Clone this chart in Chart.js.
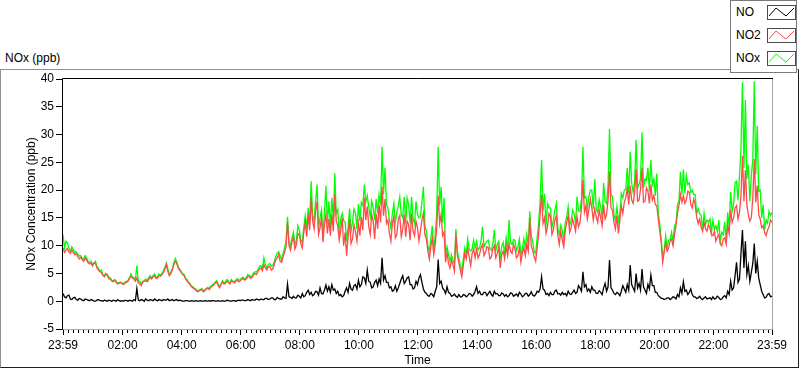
<!DOCTYPE html>
<html>
<head>
<meta charset="utf-8">
<script src="https://cdn.jsdelivr.net/npm/chart.js@4.4.0/dist/chart.umd.min.js"></script>
<style>
  body { margin: 0; width: 800px; height: 369px; background: #fff; overflow: hidden; position: relative; font-family: "Liberation Sans", Arial, sans-serif; }
  #frame { position: absolute; left: 0; top: 69px; width: 799px; height: 299px; box-sizing: border-box;
           border-top: 1px solid #8f8f8f; border-left: 1px solid #8f8f8f; border-right: 1px solid #1e1e1e; border-bottom: 1px solid #1e1e1e; }
  #title { position: absolute; left: 5px; top: 51px; font-size: 12px; color: #000; }
  #chartBox { position: absolute; left: 0; top: 0; width: 800px; height: 369px; }
  #legend { position: absolute; left: 730px; top: 0; width: 67px; height: 73px; box-sizing: border-box; border: 1px solid #7a7a7a; background: #fff; }
  .item { position: absolute; left: 5px; height: 15px; line-height: 15px; font-size: 12px; color: #000; }
  .item canvas { position: absolute; left: 31px; top: 0; }
</style>
</head>
<body>
<div id="frame"></div>
<div id="title">NOx (ppb)</div>
<div id="chartBox"><canvas id="noxChart" width="800" height="369"></canvas></div>
<div id="legend"></div>
<script>
// x axis: minutes since 23:59, one sample every 3 minutes (20 per row = 1 hour)
const tickMinutes = [0, 121, 241, 361, 481, 601, 721, 841, 961, 1081, 1201, 1321, 1440];
const tickLabels = ['23:59', '02:00', '04:00', '06:00', '08:00', '10:00', '12:00', '14:00', '16:00', '18:00', '20:00', '22:00', '23:59'];

const no = [
  1.4, 0.8, 0.6, 1.0, 1.1, 0.4, 0.3, 0.6, 0.7, 0.3, 0.2, 0.5, 0.4, 0.2, 0.1, 0.4, 0.3, 0.2, 0.1, 0.3,
  0.2, 0.0, 0.0, 0.2, 0.3, 0.1, 0.1, 0.0, 0.2, 0.1, 0.0, 0.2, 0.1, 0.0, 0.2, 0.1, 0.0, 0.3, 0.1, 0.0,
  0.1, 0.0, 0.2, 0.1, 0.0, 0.2, 0.1, 0.0, 0.3, 0.1, 2.3, 0.2, 0.1, 0.3, 0.2, 0.0, 0.4, 0.2, 0.1, 0.3,
  0.2, 0.1, 0.4, 0.2, 0.1, 0.3, 0.2, 0.1, 0.3, 0.2, 0.2, 0.4, 0.1, 0.2, 0.3, 0.1, 0.2, 0.3, 0.1, 0.2,
  0.1, 0.0, 0.0, 0.1, 0.1, 0.0, 0.0, 0.1, 0.0, 0.0, 0.1, 0.0, 0.0, 0.1, 0.0, 0.0, 0.1, 0.0, 0.0, 0.1,
  0.0, 0.1, 0.1, 0.0, 0.0, 0.1, 0.0, 0.0, 0.1, 0.0, 0.0, 0.2, 0.1, 0.0, 0.0, 0.1, 0.1, 0.0, 0.1, 0.2,
  0.1, 0.2, 0.2, 0.1, 0.1, 0.3, 0.2, 0.1, 0.3, 0.2, 0.2, 0.4, 0.3, 0.2, 0.4, 0.3, 0.3, 0.5, 0.5, 0.3,
  0.4, 0.6, 0.6, 0.3, 0.3, 0.7, 0.5, 0.4, 0.4, 0.8, 0.6, 0.5, 3.1, 0.8, 0.7, 0.5, 0.9, 0.6, 0.6, 1.1,
  0.9, 0.6, 1.4, 0.8, 1.0, 1.6, 2.0, 1.2, 1.6, 1.0, 1.2, 1.8, 1.7, 1.1, 2.4, 1.4, 1.3, 2.0, 2.9, 1.8,
  2.6, 1.6, 3.0, 2.0, 2.2, 1.4, 1.8, 1.0, 1.2, 0.8, 1.0, 1.8, 2.4, 1.6, 3.2, 2.2, 2.0, 2.8, 3.0, 2.2,
  3.8, 2.6, 3.0, 4.4, 4.2, 3.2, 5.6, 3.6, 3.4, 2.4, 2.6, 3.4, 3.8, 2.8, 4.0, 3.2, 7.8, 3.8, 4.6, 3.4,
  3.4, 2.4, 2.6, 1.8, 2.0, 2.8, 1.8, 2.4, 3.2, 4.0, 4.6, 3.2, 3.6, 4.2, 4.4, 3.0, 3.0, 2.2, 2.4, 3.6,
  3.0, 4.2, 4.8, 3.4, 2.2, 1.6, 1.4, 1.0, 0.9, 1.4, 1.2, 0.8, 1.8, 2.6, 7.5, 3.2, 3.6, 2.4, 2.0, 1.4,
  2.6, 1.6, 1.4, 0.9, 1.0, 1.3, 0.9, 0.7, 1.2, 0.8, 0.8, 1.2, 1.1, 0.8, 1.0, 1.4, 1.3, 0.9, 1.2, 1.8,
  2.6, 1.4, 1.8, 1.2, 1.2, 1.6, 1.6, 1.0, 1.4, 1.8, 1.2, 0.9, 1.8, 1.3, 1.4, 1.0, 1.0, 1.5, 1.3, 0.9,
  1.2, 0.8, 1.0, 1.5, 1.4, 0.9, 1.1, 1.3, 0.9, 1.6, 1.3, 0.8, 1.0, 1.4, 1.4, 0.9, 1.2, 1.7, 1.1, 0.9,
  1.2, 1.8, 1.6, 2.2, 4.4, 2.2, 2.0, 1.2, 1.4, 1.0, 1.6, 1.2, 1.2, 1.8, 2.0, 1.3, 1.4, 1.1, 1.6, 1.2,
  1.4, 1.0, 1.8, 1.3, 1.2, 1.6, 2.0, 1.4, 1.6, 2.8, 2.4, 1.8, 5.3, 2.6, 3.0, 1.8, 2.2, 1.6, 2.6, 2.0,
  2.0, 1.4, 1.4, 1.9, 1.6, 1.2, 2.4, 3.2, 1.8, 2.6, 7.4, 2.4, 2.0, 1.4, 1.2, 1.6, 1.4, 1.0, 1.8, 2.8,
  2.2, 1.6, 3.0, 2.0, 6.5, 3.0, 2.4, 1.8, 5.0, 2.4, 3.2, 2.0, 5.8, 2.6, 2.0, 1.4, 3.0, 2.2, 4.7, 2.8,
  2.8, 1.6, 1.6, 1.0, 0.8, 0.5, 0.5, 0.3, 0.4, 0.6, 0.6, 0.3, 0.5, 0.8, 0.7, 0.4, 1.2, 0.8, 2.4, 1.4,
  3.5, 1.8, 2.0, 1.2, 1.6, 2.2, 1.2, 0.8, 0.8, 0.5, 0.6, 0.9, 0.5, 0.3, 0.6, 0.8, 0.4, 0.5, 0.6, 0.3,
  0.8, 0.4, 0.5, 0.9, 0.7, 0.3, 0.4, 0.8, 1.0, 0.6, 1.8, 1.2, 3.6, 2.0, 2.4, 4.6, 7.0, 3.4, 4.0, 8.6,
  12.8, 6.0, 10.8, 4.8, 6.4, 3.6, 5.2, 6.8, 10.4, 5.0, 7.2, 4.2, 3.0, 1.8, 1.2, 0.6, 0.7, 1.2, 1.4, 0.8,
  0.9
];

const no2 = [
  9.6, 8.8, 9.2, 9.5, 8.9, 8.6, 9.3, 8.7, 8.4, 8.6, 8.0, 7.6, 7.9, 7.5, 7.2, 7.8, 7.4, 6.9, 6.7, 6.9,
  6.3, 6.9, 6.8, 6.0, 5.6, 5.3, 5.2, 4.7, 4.4, 4.9, 4.6, 4.1, 3.9, 3.7, 3.5, 3.8, 3.4, 3.1, 3.2, 3.4,
  3.1, 3.0, 3.3, 3.4, 3.6, 4.1, 4.5, 4.2, 4.0, 3.6, 4.2, 3.3, 3.1, 2.8, 3.4, 3.6, 3.7, 3.5, 3.9, 4.3,
  4.0, 4.4, 4.6, 4.1, 4.2, 4.6, 4.5, 4.8, 5.2, 5.8, 6.6, 5.4, 4.6, 5.0, 5.6, 6.6, 7.2, 6.8, 6.0, 5.6,
  5.2, 4.8, 4.6, 4.0, 3.6, 3.3, 3.0, 2.6, 2.4, 2.2, 2.0, 1.7, 1.8, 2.0, 2.1, 1.7, 1.9, 2.2, 2.3, 2.1,
  2.5, 2.7, 2.9, 3.3, 3.5, 2.9, 2.4, 3.0, 3.5, 3.1, 3.2, 3.6, 3.4, 3.1, 3.7, 3.5, 3.3, 3.6, 3.8, 3.5,
  3.7, 3.9, 4.1, 3.8, 4.0, 4.4, 4.5, 4.1, 4.3, 4.7, 5.0, 4.8, 5.4, 5.8, 6.0, 5.5, 6.6, 6.0, 5.6, 6.2,
  6.3, 5.6, 5.8, 6.6, 7.4, 7.8, 8.4, 7.2, 7.0, 8.0, 8.8, 9.8, 14.3, 10.0, 9.2, 10.6, 11.6, 9.4, 10.2, 12.2,
  12.0, 10.4, 9.6, 12.4, 14.2, 11.6, 15.6, 12.8, 18.6, 14.4, 13.0, 16.2, 18.0, 12.0, 13.2, 15.0, 10.6, 13.8, 15.6, 12.2,
  14.8, 11.8, 15.6, 12.6, 19.2, 14.4, 13.6, 11.0, 12.6, 15.0, 10.0, 12.4, 8.2, 11.6, 14.8, 10.4, 11.2, 13.8, 12.6, 10.8,
  14.0, 11.8, 15.2, 12.8, 18.6, 14.6, 17.1, 13.4, 12.0, 15.6, 14.4, 11.2, 15.8, 13.0, 17.4, 14.2, 20.6, 15.4, 18.4, 14.0,
  14.6, 12.2, 10.8, 14.0, 15.2, 11.4, 12.0, 14.8, 15.4, 11.6, 13.0, 15.6, 11.6, 14.4, 13.8, 11.0, 15.8, 12.6, 11.8, 14.4,
  13.2, 10.8, 12.6, 14.6, 15.8, 12.0, 11.2, 9.0, 7.6, 9.8, 11.4, 8.4, 10.2, 13.2, 19.0, 14.0, 15.6, 11.8, 12.4, 7.0,
  8.8, 6.8, 6.0, 7.4, 6.6, 5.4, 12.2, 8.2, 7.0, 5.6, 4.4, 6.4, 8.6, 7.6, 9.6, 8.0, 6.4, 8.6, 9.4, 7.8,
  9.4, 7.8, 8.4, 9.6, 10.2, 8.2, 8.8, 9.8, 9.6, 7.6, 8.0, 9.4, 10.0, 7.8, 8.6, 9.8, 6.0, 8.4, 9.0, 7.6,
  9.8, 8.2, 10.4, 9.0, 8.6, 10.2, 9.4, 7.8, 8.2, 9.6, 7.0, 8.6, 9.6, 8.2, 10.2, 9.0, 15.0, 10.0, 9.2, 8.0,
  7.2, 9.6, 12.0, 15.6, 19.2, 14.0, 15.0, 12.2, 13.4, 15.8, 15.2, 12.0, 12.8, 14.6, 15.4, 11.8, 10.2, 12.6, 11.0, 9.8,
  12.6, 14.2, 15.4, 12.4, 13.2, 14.8, 13.8, 12.6, 15.2, 13.4, 14.2, 16.6, 21.8, 16.0, 17.2, 14.8, 16.4, 18.4, 16.8, 14.6,
  16.6, 15.2, 14.2, 16.4, 15.0, 13.6, 17.4, 14.8, 15.6, 18.2, 23.4, 16.8, 16.4, 14.2, 13.0, 15.4, 12.2, 14.6, 17.2, 15.8,
  17.8, 18.6, 20.4, 17.4, 20.8, 18.2, 17.6, 19.6, 23.8, 18.0, 18.2, 20.2, 24.0, 17.8, 18.0, 20.4, 19.8, 17.6, 21.0, 18.2,
  19.0, 17.4, 17.2, 14.8, 12.6, 10.6, 7.0, 8.8, 10.4, 9.0, 9.6, 10.8, 11.2, 10.0, 12.0, 13.6, 15.8, 17.2, 19.2, 17.8,
  19.0, 17.6, 18.2, 19.8, 19.6, 17.4, 16.8, 18.4, 17.4, 15.2, 14.0, 14.8, 13.4, 12.6, 14.2, 13.0, 12.6, 13.8, 13.2, 12.0,
  11.8, 12.6, 10.8, 11.6, 12.0, 10.4, 10.0, 11.2, 11.4, 10.2, 13.8, 12.2, 16.4, 14.2, 15.0, 16.8, 17.2, 14.8, 16.0, 19.0,
  26.2, 18.0, 23.6, 17.2, 15.6, 14.4, 15.0, 18.6, 25.6, 17.8, 20.8, 15.6, 14.8, 13.2, 13.6, 12.4, 11.8, 12.8, 13.4, 14.6,
  14.2
];

const nox = [
  12.0, 9.6, 10.8, 10.5, 9.6, 9.0, 9.8, 9.3, 8.8, 8.9, 8.4, 8.1, 8.2, 7.7, 7.6, 8.2, 7.8, 7.1, 7.0, 7.2,
  6.6, 6.9, 7.2, 6.2, 5.9, 5.4, 5.6, 4.7, 4.7, 5.0, 4.8, 4.3, 4.2, 3.7, 3.7, 3.9, 3.6, 3.2, 3.4, 3.4,
  3.3, 3.1, 3.5, 3.5, 3.8, 4.2, 4.9, 4.3, 4.3, 3.8, 6.4, 3.5, 3.6, 3.1, 3.6, 3.7, 4.0, 3.7, 4.2, 4.6,
  4.2, 4.6, 4.9, 4.3, 4.4, 4.9, 4.7, 5.0, 5.5, 6.1, 6.9, 5.8, 4.8, 5.2, 5.9, 6.8, 7.7, 7.1, 6.2, 5.8,
  5.4, 4.9, 4.8, 4.1, 3.9, 3.4, 3.2, 2.7, 2.6, 2.3, 2.2, 1.8, 2.0, 2.1, 2.3, 1.8, 2.1, 2.3, 2.5, 2.3,
  2.7, 2.9, 3.1, 3.4, 3.7, 3.1, 2.6, 3.1, 3.7, 3.2, 3.5, 3.9, 3.6, 3.2, 3.9, 3.6, 3.5, 3.8, 4.1, 3.8,
  3.9, 4.2, 4.3, 4.0, 4.2, 4.8, 4.7, 4.4, 4.6, 5.1, 5.3, 5.3, 5.7, 6.2, 6.4, 5.9, 7.8, 6.6, 6.0, 6.6,
  6.8, 6.3, 6.4, 7.1, 8.0, 8.6, 8.9, 8.2, 7.4, 8.6, 9.6, 10.8, 15.2, 10.7, 10.0, 11.4, 12.4, 10.2, 11.0, 13.6,
  12.8, 11.0, 10.6, 13.2, 15.4, 13.2, 16.8, 14.0, 21.6, 15.4, 14.4, 18.0, 21.0, 13.1, 15.0, 16.4, 12.0, 15.8, 20.8, 14.0,
  18.0, 13.4, 18.6, 14.6, 23.0, 15.8, 16.5, 12.0, 14.8, 15.8, 14.5, 14.2, 10.8, 13.2, 16.7, 12.6, 14.2, 16.6, 16.0, 13.0,
  17.5, 14.4, 17.8, 17.2, 21.0, 17.8, 19.0, 17.0, 15.2, 18.0, 16.8, 14.6, 18.4, 15.8, 19.2, 17.4, 27.8, 19.2, 24.0, 17.4,
  16.8, 14.6, 13.2, 15.8, 17.6, 14.2, 16.0, 17.2, 18.8, 15.6, 15.0, 18.8, 14.0, 18.6, 17.4, 14.0, 18.8, 14.8, 14.0, 18.0,
  15.6, 15.0, 15.2, 18.0, 20.6, 13.6, 12.6, 10.0, 9.0, 11.2, 13.6, 9.2, 12.0, 15.8, 27.8, 17.2, 20.6, 14.2, 18.6, 8.4,
  9.8, 8.4, 7.2, 8.3, 7.4, 6.7, 13.0, 8.9, 7.8, 6.4, 5.4, 7.6, 9.6, 8.4, 11.2, 9.4, 9.0, 9.5, 11.0, 9.6,
  10.8, 9.2, 9.6, 10.8, 13.4, 9.8, 10.4, 10.8, 11.0, 9.4, 9.2, 10.3, 12.8, 9.1, 10.2, 10.8, 7.6, 9.9, 10.6, 8.5,
  11.4, 9.0, 14.6, 10.5, 10.2, 11.1, 11.0, 9.1, 9.8, 11.2, 8.4, 9.4, 11.2, 9.6, 12.0, 9.9, 16.2, 11.7, 10.8, 8.9,
  8.6, 11.4, 14.0, 17.8, 25.4, 16.2, 19.4, 13.4, 17.6, 16.8, 16.8, 13.2, 14.6, 16.4, 17.6, 13.1, 12.0, 13.7, 12.8, 11.0,
  14.0, 15.2, 17.0, 13.7, 14.6, 16.4, 15.8, 14.0, 18.8, 16.2, 16.2, 18.4, 27.8, 18.6, 18.8, 16.6, 18.8, 20.0, 20.0, 16.6,
  22.0, 16.6, 16.0, 18.3, 17.0, 14.8, 21.3, 18.0, 17.6, 20.8, 31.0, 19.2, 18.8, 15.6, 14.6, 17.0, 14.4, 15.6, 19.4, 18.6,
  20.0, 20.2, 24.0, 19.4, 26.9, 21.2, 19.6, 21.4, 29.0, 20.4, 21.0, 22.2, 30.4, 20.4, 22.0, 21.8, 24.0, 19.8, 25.4, 21.0,
  22.0, 19.0, 23.0, 15.8, 14.0, 11.1, 8.0, 9.1, 11.8, 9.6, 11.0, 11.1, 12.4, 10.8, 13.6, 14.0, 17.4, 18.0, 23.3, 19.2,
  23.7, 19.4, 22.6, 21.0, 21.3, 19.6, 20.0, 19.2, 19.2, 15.7, 16.7, 15.7, 15.5, 12.9, 15.8, 13.8, 14.6, 14.3, 14.8, 12.3,
  14.6, 13.0, 13.6, 12.5, 14.6, 10.7, 12.4, 12.0, 14.3, 10.8, 16.0, 13.4, 19.7, 16.2, 17.4, 21.4, 21.6, 18.2, 22.6, 27.6,
  39.4, 24.0, 36.2, 22.0, 24.6, 18.0, 22.6, 25.4, 39.6, 22.8, 31.6, 19.8, 20.0, 15.0, 17.4, 13.0, 14.6, 14.0, 16.2, 15.4,
  16.0
];

const stepMinutes = 3;
const fontFamily = '"Liberation Sans", Arial, sans-serif';

function toPoints(values) {
    return values.map((v, i) => ({ x: i * stepMinutes, y: v }));
}

// plot frame (dark top/left, light bottom/right) and 10-minute minor ticks
const plotFrame = {
    id: 'plotFrame',
    afterDatasetsDraw(chart) {
        const { ctx, chartArea: a, scales } = chart;
        ctx.save();
        ctx.lineWidth = 1;
        ctx.strokeStyle = '#a8a8a8';
        ctx.beginPath();
        ctx.moveTo(a.right + 0.5, a.top - 1);
        ctx.lineTo(a.right + 0.5, a.bottom + 0.5);
        ctx.lineTo(a.left - 1, a.bottom + 0.5);
        ctx.stroke();
        ctx.strokeStyle = '#000';
        ctx.beginPath();
        ctx.moveTo(a.left - 0.5, a.bottom + 1);
        ctx.lineTo(a.left - 0.5, a.top - 0.5);
        ctx.lineTo(a.right + 1, a.top - 0.5);
        ctx.stroke();
        ctx.beginPath();
        for (let m = 11; m < 1440; m += 10) {
            if ((m - 1) % 120 === 0) continue;
            const px = Math.round(scales.x.getPixelForValue(m)) + 0.5;
            ctx.moveTo(px, a.bottom + 1);
            ctx.lineTo(px, a.bottom + 4);
        }
        ctx.stroke();
        ctx.restore();
    }
};

const ctx = document.getElementById('noxChart').getContext('2d');
const chart = new Chart(ctx, {
    type: 'line',
    data: {
        datasets: [
            { label: 'NO', data: toPoints(no), borderColor: '#000000' },
            { label: 'NO2', data: toPoints(no2), borderColor: '#ff4a4a' },
            { label: 'NOx', data: toPoints(nox), borderColor: '#00ff00' }
        ]
    },
    options: {
        responsive: false,
        animation: false,
        devicePixelRatio: 1,
        layout: { padding: { left: 0, top: 79, right: 28, bottom: 0 } },
        elements: {
            point: { radius: 0 },
            line: { borderWidth: 1.3, tension: 0 }
        },
        plugins: {
            legend: { display: false },
            tooltip: { enabled: false }
        },
        scales: {
            x: {
                type: 'linear',
                min: 0,
                max: 1440,
                afterBuildTicks: (s) => { s.ticks = tickMinutes.map(v => ({ value: v })); },
                afterFit: (s) => { s.height = 40; },
                ticks: {
                    autoSkip: false,
                    maxRotation: 0,
                    padding: 3,
                    color: '#000',
                    font: { family: fontFamily, size: 12 },
                    callback: (v) => tickLabels[tickMinutes.indexOf(v)]
                },
                grid: { drawOnChartArea: false, tickLength: 6, tickColor: '#000' },
                border: { display: false },
                title: { display: true, text: 'Time', color: '#000', font: { family: fontFamily, size: 12 }, padding: { top: 0, bottom: 1 } }
            },
            y: {
                min: -5,
                max: 40,
                afterFit: (s) => { s.width = 63; },
                ticks: {
                    stepSize: 5,
                    padding: 2,
                    color: '#000',
                    font: { family: fontFamily, size: 12 }
                },
                grid: { drawOnChartArea: false, tickLength: 7, tickColor: '#000' },
                border: { display: false },
                title: { display: true, text: 'NOx Concentration (ppb)', color: '#000', font: { family: fontFamily, size: 12 }, padding: { top: 24, bottom: 0 } }
            }
        }
    },
    plugins: [plotFrame]
});

// boxed legend with zig-zag samples, built from the chart's datasets
const legend = document.getElementById('legend');
const rowTops = [4, 27, 50];
chart.data.datasets.forEach((ds, i) => {
    const item = document.createElement('div');
    item.className = 'item';
    item.style.top = rowTops[i] + 'px';
    item.textContent = ds.label;
    const c = document.createElement('canvas');
    c.width = 29;
    c.height = 15;
    const g = c.getContext('2d');
    g.strokeStyle = '#4a4a4a';
    g.lineWidth = 1;
    g.strokeRect(0.5, 0.5, 28, 14);
    g.strokeStyle = ds.borderColor;
    g.beginPath();
    g.moveTo(2, 11);
    g.lineTo(9, 3);
    g.lineTo(19, 11);
    g.lineTo(27, 3);
    g.stroke();
    item.appendChild(c);
    legend.appendChild(item);
});
</script>
</body>
</html>
